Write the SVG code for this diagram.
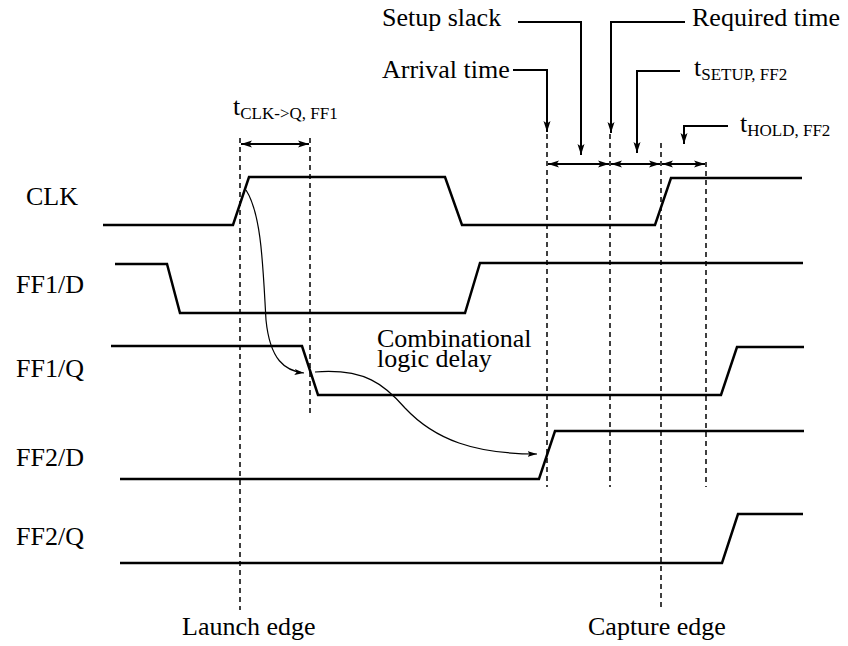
<svg xmlns="http://www.w3.org/2000/svg" width="848" height="646" viewBox="0 0 848 646">
<defs>
<style>
text{font-family:"Liberation Serif","Times New Roman","DejaVu Serif",serif;font-size:26px;fill:#000}
.sub{font-size:17px}
.wave{fill:none;stroke:#000;stroke-width:2.5;stroke-linejoin:miter}
.dash{fill:none;stroke:#000;stroke-width:1.5;stroke-dasharray:5 4}
.ann{fill:none;stroke:#000;stroke-width:2;marker-end:url(#ah)}
.dbl{fill:none;stroke:#000;stroke-width:2;marker-start:url(#ah2);marker-end:url(#ah2)}
.curve{fill:none;stroke:#000;stroke-width:1.2;marker-end:url(#ah3)}
</style>
<marker id="ah" markerUnits="userSpaceOnUse" markerWidth="12" markerHeight="8" refX="11" refY="4" orient="auto">
<path d="M0,0.5 L11,4 L0,7.5 L2.5,4 z" fill="#000"/>
</marker>
<marker id="ah2" markerUnits="userSpaceOnUse" markerWidth="12" markerHeight="8" refX="11" refY="4" orient="auto-start-reverse">
<path d="M0,0.5 L11,4 L0,7.5 L2.5,4 z" fill="#000"/>
</marker>
<marker id="ah3" markerUnits="userSpaceOnUse" markerWidth="10" markerHeight="7" refX="9.5" refY="3.5" orient="auto">
<path d="M0,0.5 L9.5,3.5 L0,6.5 L2,3.5 z" fill="#000"/>
</marker>
</defs>
<rect width="848" height="646" fill="#fff"/>

<g id="guides">
<line class="dash" x1="240" y1="138" x2="240" y2="610"/>
<line class="dash" x1="310" y1="138" x2="310" y2="413"/>
<line class="dash" x1="547" y1="134" x2="547" y2="487"/>
<line class="dash" x1="610" y1="134" x2="610" y2="487"/>
<line class="dash" x1="661" y1="143" x2="661" y2="610"/>
<line class="dash" x1="706" y1="162" x2="706" y2="487"/>
</g>

<g font-family="Liberation Serif, Times New Roman, DejaVu Serif, serif">
<g id="sig-clk">
<text x="26" y="205">CLK</text>
<path class="wave" d="M103,225 H233 L249,177 H445 L462,225 H655 L671,178 H802"/>
</g>
<g id="sig-ff1d">
<text x="16" y="293">FF1/D</text>
<path class="wave" d="M115,264 H167 L180,313 H465 L480,263 H803"/>
</g>
<g id="sig-ff1q">
<text x="16" y="377">FF1/Q</text>
<path class="wave" d="M111,346 H302 L318,395 H721 L737,347 H804"/>
</g>
<g id="sig-ff2d">
<text x="16" y="466">FF2/D</text>
<path class="wave" d="M120,479 H539 L555,431 H804"/>
</g>
<g id="sig-ff2q">
<text x="16" y="545">FF2/Q</text>
<path class="wave" d="M120,563 H722 L738,514 H803"/>
</g>

<g id="lbl-launch"><text x="182" y="635">Launch edge</text></g>
<g id="lbl-capture"><text x="588" y="635">Capture edge</text></g>
<g id="lbl-comb"><text x="377" y="347">Combinational</text><text x="377" y="367">logic delay</text></g>
<g id="lbl-tclkq"><text x="233" y="115">t<tspan class="sub" dy="4">CLK-&gt;Q, FF1</tspan></text></g>
<g id="lbl-setupslack"><text x="382" y="26">Setup slack</text></g>
<g id="lbl-required"><text x="692" y="26">Required time</text></g>
<g id="lbl-arrival"><text x="382" y="78">Arrival time</text></g>
<g id="lbl-tsetup"><text x="694" y="76">t<tspan class="sub" dy="4">SETUP, FF2</tspan></text></g>
<g id="lbl-thold"><text x="740" y="132">t<tspan class="sub" dy="4">HOLD, FF2</tspan></text></g>
</g>

<g id="connectors">
<line class="dbl" x1="241" y1="144" x2="309" y2="144"/>
<line class="dbl" x1="548" y1="164" x2="609" y2="164"/>
<line class="dbl" x1="611" y1="164" x2="660" y2="164"/>
<line class="dbl" x1="662" y1="164" x2="705" y2="164"/>
<path class="ann" d="M513,70 H547 V132"/>
<path class="ann" d="M518,22 H581 V155"/>
<path class="ann" d="M685,22 H611 V133"/>
<path class="ann" d="M680,71 H637 V153"/>
<path class="ann" d="M728,126 H684 V144"/>
<path class="curve" d="M246,190 C262,215 263,270 266,320 C270,360 285,371 304,373"/>
<path class="curve" d="M315,372 C365,368 385,385 405,408 C435,440 475,454 537,454"/>
</g>
</svg>
